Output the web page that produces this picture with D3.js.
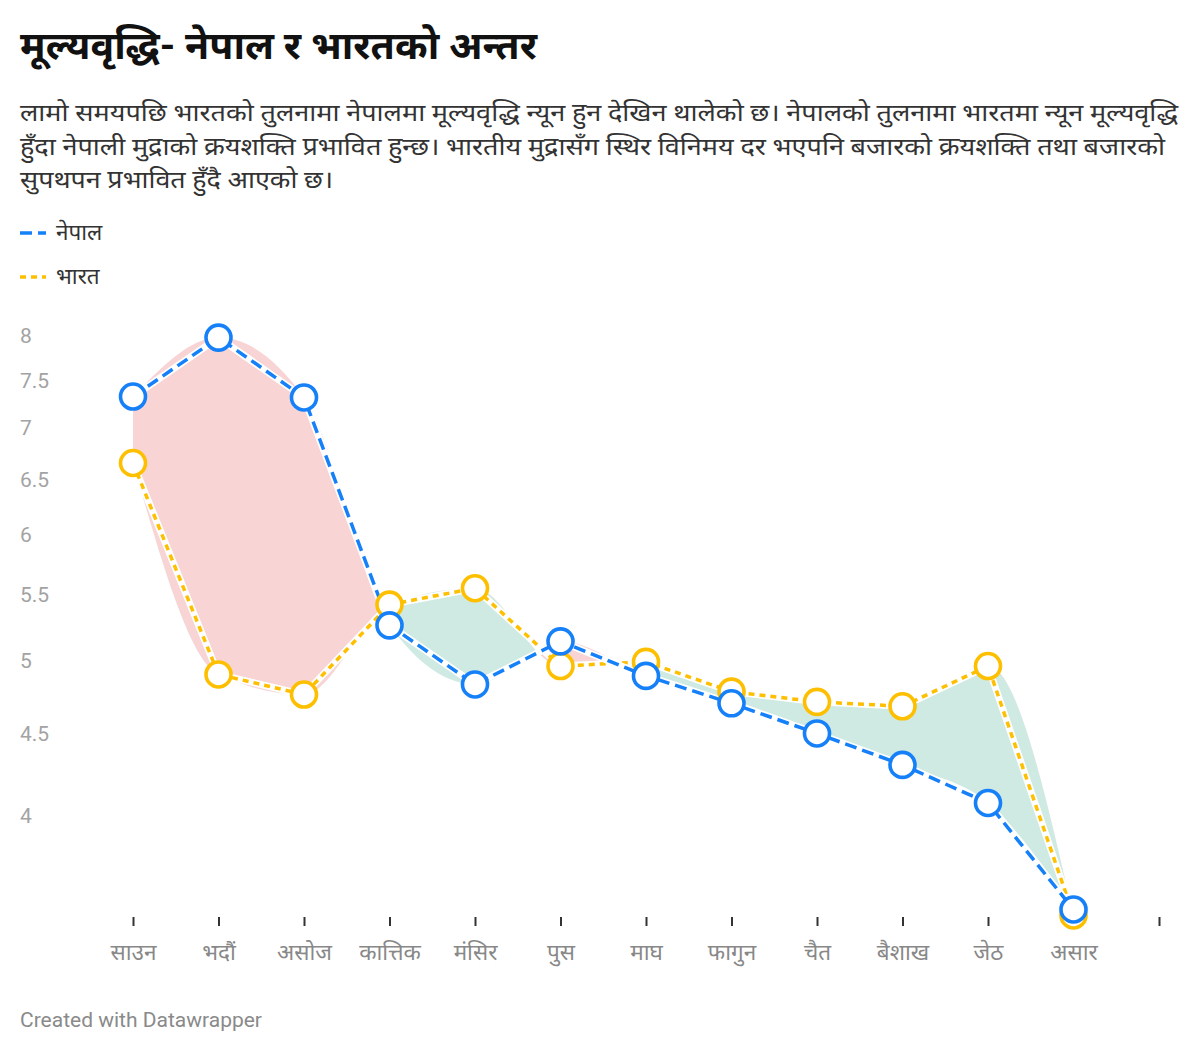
<!DOCTYPE html>
<html><head><meta charset="utf-8">
<script src="https://cdn.jsdelivr.net/npm/d3@7"></script>
<style>
body{margin:0;background:#fff;}
svg text{font-family:Roboto,'Noto Sans','Noto Sans Devanagari',sans-serif;}
</style>
</head><body>
<svg id="c" width="1200" height="1053"></svg>
<script>
const months = ["साउन","भदौं","असोज","कात्तिक","मंसिर","पुस","माघ","फागुन","चैत","बैशाख","जेठ","असार"];
const nepal = [7.32, 7.97, 7.31, 5.26, 4.83, 5.14, 4.89, 4.70, 4.50, 4.30, 4.07, 3.49];
const india = [6.65, 4.90, 4.76, 5.42, 5.55, 4.96, 4.99, 4.78, 4.71, 4.68, 4.96, 3.46];
const yTicks = [4, 4.5, 5, 5.5, 6, 6.5, 7, 7.5, 8];
const title = "मूल्यवृद्धि- नेपाल र भारतको अन्तर";
const subtitleLines = [
  "लामो समयपछि भारतको तुलनामा नेपालमा मूल्यवृद्धि न्यून हुन देखिन थालेको छ। नेपालको तुलनामा भारतमा न्यून मूल्यवृद्धि",
  "हुँदा नेपाली मुद्राको क्रयशक्ति प्रभावित हुन्छ। भारतीय मुद्रासँग स्थिर विनिमय दर भएपनि बजारको क्रयशक्ति तथा बजारको",
  "सुपथपन प्रभावित हुँदै आएको छ।"
];
const subtitleWidths = [1158, 1145, 313];
const legend = [{name:"नेपाल", color:"#1580f8", dash:"12,6"}, {name:"भारत", color:"#fdbf00", dash:"6,5"}];

const svg = d3.select("#c");
const BLUE = "#1580f8", YEL = "#fdbf00";

// header
svg.append("text").attr("x",20).attr("y",59).attr("font-size",38).attr("font-weight",700)
  .attr("fill","#111").attr("textLength",517).attr("lengthAdjust","spacingAndGlyphs").text(title);
subtitleLines.forEach((l,i)=>{
  svg.append("text").attr("x",20).attr("y",121+i*33.5).attr("font-size",24.5).attr("fill","#333")
    .attr("textLength",subtitleWidths[i]).attr("lengthAdjust","spacingAndGlyphs").text(l);
});
legend.forEach((d,i)=>{
  const yy = 233 + i*44;
  svg.append("line").attr("x1",20).attr("x2",46).attr("y1",yy).attr("y2",yy)
    .attr("stroke",d.color).attr("stroke-width",3.4).attr("stroke-dasharray",d.dash);
  svg.append("text").attr("x",56).attr("y",yy+7).attr("font-size",22.5).attr("fill","#333").text(d.name);
});

const x = d3.scaleLinear().domain([0,12]).range([133,1159]);
const y = d3.scaleLog().domain([4,8]).range([815,335]);

// y axis
const ya = svg.append("g").attr("transform","translate(20,0)")
  .call(d3.axisLeft(y).tickValues(yTicks).tickFormat(d=>String(d)).tickSize(0));
ya.select(".domain").remove();
ya.selectAll("text").attr("x",0).attr("text-anchor","start").attr("font-size",21)
  .attr("fill","#a3a3a3").attr("font-family","Roboto,sans-serif").attr("dy","0.35em");

// x axis
const xa = svg.append("g").attr("transform","translate(0,917)")
  .call(d3.axisBottom(x).tickValues(d3.range(13)).tickFormat(i=>months[i]||"").tickSize(9));
xa.select(".domain").remove();
xa.selectAll("line").attr("stroke","#333").attr("stroke-width",2);
xa.selectAll("text").attr("y",35).attr("dy","0.35em").attr("font-size",22.5).attr("fill","#888")
  .attr("font-family","Roboto,'Noto Sans',sans-serif");

// fill areas
const idx = d3.range(months.length);
const curve = d3.curveMonotoneX;
const area = d3.area().x(i=>x(i)).y0(i=>y(india[i])).y1(i=>y(nepal[i])).curve(curve);
const defs = svg.append("defs");
defs.append("clipPath").attr("id","above").append("path")
  .attr("d", d3.area().x(i=>x(i)).y0(0).y1(i=>y(india[i])).curve(curve)(idx));
defs.append("clipPath").attr("id","below").append("path")
  .attr("d", d3.area().x(i=>x(i)).y0(1053).y1(i=>y(india[i])).curve(curve)(idx));
svg.append("path").attr("d",area(idx)).attr("fill","#f8d4d5").attr("clip-path","url(#above)");
svg.append("path").attr("d",area(idx)).attr("fill","#cfe9e3").attr("clip-path","url(#below)");

// lines
const line = d3.line().x(d=>x(d[0])).y(d=>y(d[1]));
function drawLine(vals,color,dash){
  const pts = vals.map((v,i)=>[i,v]);
  svg.append("path").attr("d",line(pts)).attr("fill","none").attr("stroke","#fff").attr("stroke-width",7);
  svg.append("path").attr("d",line(pts)).attr("fill","none").attr("stroke",color)
    .attr("stroke-width",3.5).attr("stroke-dasharray",dash);
}
drawLine(india,YEL,"6,5");
drawLine(nepal,BLUE,"12,6");
function drawDots(vals,color){
  svg.append("g").selectAll("circle").data(vals).join("circle")
    .attr("cx",(d,i)=>x(i)).attr("cy",d=>y(d)).attr("r",12.5)
    .attr("fill","#fff").attr("stroke",color).attr("stroke-width",3.6);
}
drawDots(india,YEL);
drawDots(nepal,BLUE);

svg.append("text").attr("x",20).attr("y",1027).attr("font-size",21).attr("fill","#8a8a8a")
  .attr("font-family","Roboto,sans-serif").text("Created with Datawrapper");
</script>
</body></html>
